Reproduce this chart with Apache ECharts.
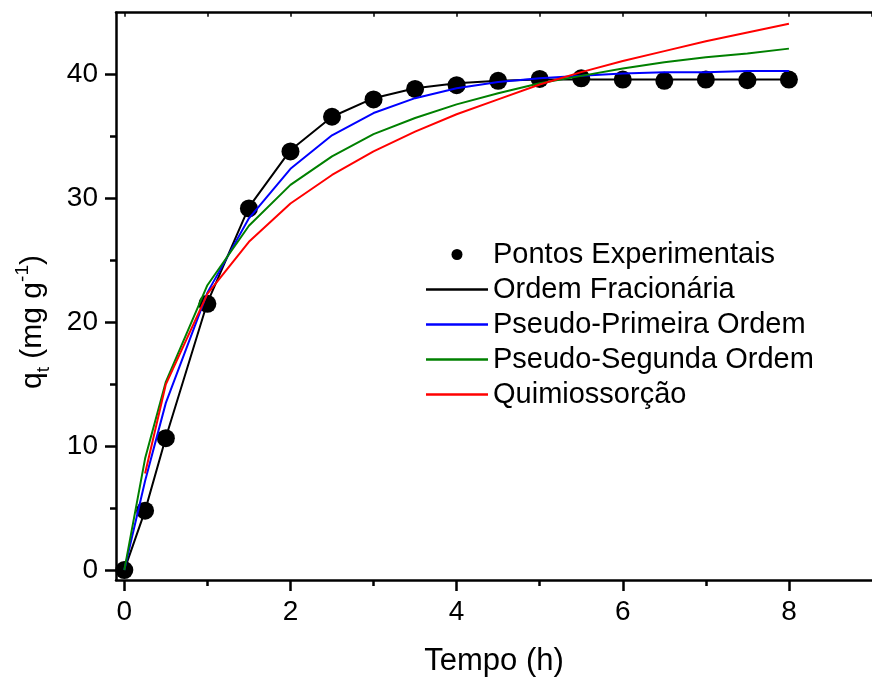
<!DOCTYPE html>
<html><head><meta charset="utf-8">
<script src="https://cdn.jsdelivr.net/npm/echarts@6/dist/echarts.min.js"></script>
<style>html,body{margin:0;padding:0;background:#fff}#c{width:872px;height:682px}</style>
</head><body><div id="c"></div>
<script>
// ---- data ----
const times = [0, 0.25, 0.5, 1, 1.5, 2, 2.5, 3, 3.5, 4, 4.5, 5, 5.5, 6, 6.5, 7, 7.5, 8];
const experimental = [0, 4.8, 10.65, 21.5, 29.2, 33.8, 36.6, 38.0, 38.85, 39.15, 39.5, 39.65, 39.7, 39.6, 39.5, 39.6, 39.55, 39.6];
const ordemFracionaria = [0, 4.8, 10.7, 21.6, 29.3, 33.9, 36.6, 38.1, 38.9, 39.3, 39.5, 39.6, 39.6, 39.6, 39.6, 39.6, 39.6, 39.6];
const pseudoPrimeira = [0, 7.2, 13.5, 22.4, 28.4, 32.4, 35.1, 36.9, 38.1, 38.9, 39.4, 39.7, 39.9, 40.1, 40.2, 40.2, 40.3, 40.3];
const pseudoSegunda = [0, 9.0, 15.2, 23.0, 27.8, 31.1, 33.4, 35.2, 36.5, 37.6, 38.5, 39.3, 39.9, 40.5, 41.0, 41.4, 41.7, 42.1];
const quimiossorcao = [null, 7.8, 15.0, 22.3, 26.5, 29.6, 31.9, 33.8, 35.4, 36.8, 38.0, 39.2, 40.2, 41.1, 41.9, 42.7, 43.4, 44.1];
const seriesNames = ['Pontos Experimentais', 'Ordem Fracionária', 'Pseudo-Primeira Ordem', 'Pseudo-Segunda Ordem', 'Quimiossorção'];
const xMajorTicks = [0, 2, 4, 6, 8];
const xMinorTicks = [1, 3, 5, 7];
const xTopTicks = [0, 1, 2, 3, 4, 5, 6, 7, 8, 9];
const yMajorTicks = [0, 10, 20, 30, 40];
const yMinorTicks = [5, 15, 25, 35];

const FONT = '"Liberation Sans", Arial, Helvetica, sans-serif';
const pairs = (ys) => times.map((t, i) => [t, ys[i]]).filter(p => p[1] !== null);

const X_MIN = -0.1, X_MAX = 9, Y_MIN = -0.8, Y_MAX = 45;
const axisLineStyle = { color: '#000', width: 2.5 };
const tickLineStyle = { color: '#000', width: 2.5 };
const LINE_ICON = 'path://M0,0L62,0L62,2.4L0,2.4Z';

const chart = echarts.init(document.getElementById('c'), null, { renderer: 'canvas' });
chart.setOption({
  animation: false,
  backgroundColor: '#fff',
  grid: { left: 116, right: -6, top: 12.7, bottom: 102, containLabel: false },
  xAxis: [
    {
      type: 'value', position: 'bottom', min: X_MIN, max: X_MAX,
      axisLine: { show: true, onZero: false, lineStyle: axisLineStyle },
      axisTick: { show: true, inside: false, length: 11, lineStyle: tickLineStyle, customValues: xMajorTicks },
      axisLabel: { show: true, customValues: xMajorTicks, fontSize: 28, color: '#000', fontFamily: FONT, margin: 18 },
      splitLine: { show: false },
      name: 'Tempo (h)', nameLocation: 'middle', nameGap: 66,
      nameTextStyle: { fontSize: 31, color: '#000', fontFamily: FONT }
    },
    {
      type: 'value', position: 'bottom', min: X_MIN, max: X_MAX,
      axisLine: { show: false, onZero: false },
      axisTick: { show: true, inside: false, length: 6, lineStyle: tickLineStyle, customValues: xMinorTicks },
      axisLabel: { show: false }, splitLine: { show: false }
    },
    {
      type: 'value', position: 'top', min: X_MIN, max: X_MAX,
      axisLine: { show: true, onZero: false, lineStyle: axisLineStyle },
      axisTick: { show: true, inside: true, length: 4, lineStyle: { color: '#000', width: 1.5 }, customValues: xTopTicks },
      axisLabel: { show: false }, splitLine: { show: false }
    }
  ],
  yAxis: [
    {
      type: 'value', position: 'left', min: Y_MIN, max: Y_MAX,
      axisLine: { show: true, onZero: false, lineStyle: axisLineStyle },
      axisTick: { show: true, inside: false, length: 11, lineStyle: tickLineStyle, customValues: yMajorTicks },
      axisLabel: { show: true, customValues: yMajorTicks, fontSize: 28, color: '#000', fontFamily: FONT, margin: 18 },
      splitLine: { show: false }
    },
    {
      type: 'value', position: 'left', min: Y_MIN, max: Y_MAX,
      axisLine: { show: false, onZero: false },
      axisTick: { show: true, inside: false, length: 6, lineStyle: tickLineStyle, customValues: yMinorTicks },
      axisLabel: { show: false }, splitLine: { show: false }
    }
  ],
  legend: {
    orient: 'vertical', left: 426, top: 240, padding: 0,
    itemWidth: 62, itemHeight: 11, itemGap: 6,
    selectedMode: false,
    textStyle: { fontSize: 29, color: '#000', fontFamily: FONT },
    data: [
      { name: seriesNames[0], icon: 'circle' },
      { name: seriesNames[1], icon: LINE_ICON },
      { name: seriesNames[2], icon: LINE_ICON },
      { name: seriesNames[3], icon: LINE_ICON },
      { name: seriesNames[4], icon: LINE_ICON }
    ]
  },
  graphic: [{
    type: 'text', x: 33, y: 322, rotation: Math.PI / 2,
    style: {
      text: '{q|q}{s|t}{q| (mg g}{p|-1}{q|)}',
      align: 'center', verticalAlign: 'middle', fill: '#000',
      font: '30px ' + FONT,
      rich: {
        q: { fontSize: 30, fontFamily: FONT, lineHeight: 40, verticalAlign: 'middle', fill: '#000' },
        s: { fontSize: 19, fontFamily: FONT, lineHeight: 20, verticalAlign: 'bottom', fill: '#000' },
        p: { fontSize: 19, fontFamily: FONT, lineHeight: 24, verticalAlign: 'top', fill: '#000' }
      }
    }
  }],
  series: [
    {
      name: seriesNames[0], type: 'scatter', xAxisIndex: 0, yAxisIndex: 0,
      symbol: 'circle', symbolSize: 18, itemStyle: { color: '#000', opacity: 1 },
      data: pairs(experimental)
    },
    {
      name: seriesNames[1], type: 'line', xAxisIndex: 0, yAxisIndex: 0, symbol: 'none',
      lineStyle: { color: '#000', width: 2 }, itemStyle: { color: '#000' },
      data: pairs(ordemFracionaria)
    },
    {
      name: seriesNames[2], type: 'line', xAxisIndex: 0, yAxisIndex: 0, symbol: 'none',
      lineStyle: { color: '#0000ff', width: 2 }, itemStyle: { color: '#0000ff' },
      data: pairs(pseudoPrimeira)
    },
    {
      name: seriesNames[3], type: 'line', xAxisIndex: 0, yAxisIndex: 0, symbol: 'none',
      lineStyle: { color: '#008000', width: 2 }, itemStyle: { color: '#008000' },
      data: pairs(pseudoSegunda)
    },
    {
      name: seriesNames[4], type: 'line', xAxisIndex: 0, yAxisIndex: 0, symbol: 'none',
      lineStyle: { color: '#ff0000', width: 2 }, itemStyle: { color: '#ff0000' },
      data: pairs(quimiossorcao)
    }
  ]
});
</script>
</body></html>
